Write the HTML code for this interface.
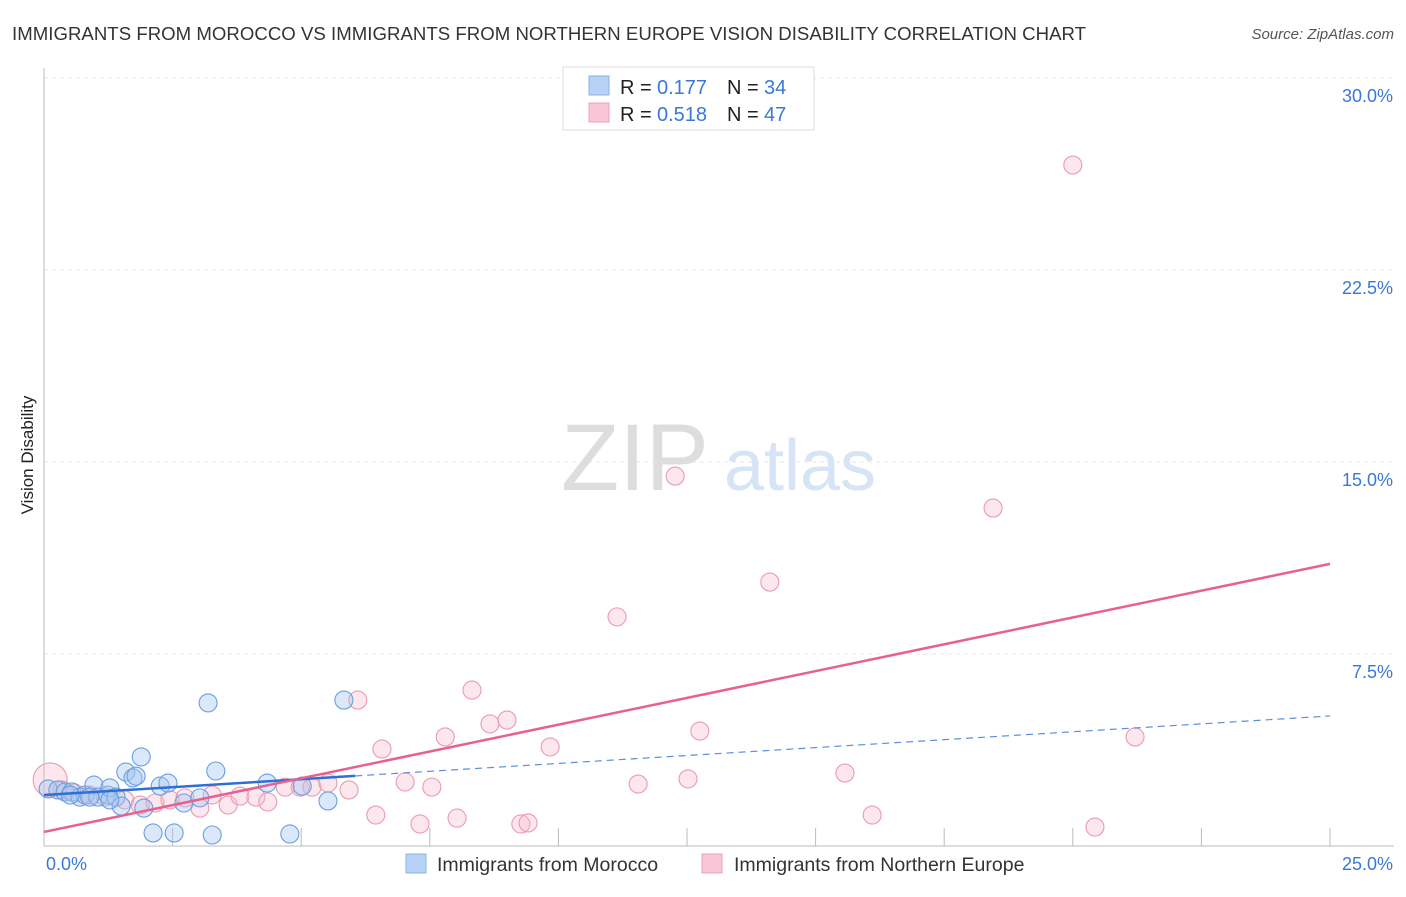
<!DOCTYPE html>
<html><head><meta charset="utf-8"><style>
body{margin:0;background:#fff;font-family:"Liberation Sans",sans-serif;}
svg text{font-family:"Liberation Sans",sans-serif;}
</style></head><body>
<svg id="chart" width="1406" height="892" xmlns="http://www.w3.org/2000/svg">
<text x="12" y="40" font-size="18.6" fill="#333" textLength="1074">IMMIGRANTS FROM MOROCCO VS IMMIGRANTS FROM NORTHERN EUROPE VISION DISABILITY CORRELATION CHART</text>
<text x="1394" y="39" font-size="15" fill="#555" font-style="italic" text-anchor="end">Source: ZipAtlas.com</text>
<text x="33" y="455" font-size="17" fill="#222" text-anchor="middle" transform="rotate(-90 33 455)">Vision Disability</text>
<g>
<text x="635" y="490" font-size="95" fill="#ddd" font-family="Liberation Serif" text-anchor="middle">ZIP</text>
<text x="800" y="490" font-size="72" fill="#d6e4f6" text-anchor="middle">atlas</text>
</g>
<g id="grid"></g><g id="pts"></g><g id="trend"></g>
<g>
<rect x="563" y="67" width="251" height="63" fill="#fff" stroke="#ddd"/>
<rect x="589" y="76" width="20" height="19" fill="#b8d2f5" stroke="#8ab2e8"/>
<text x="620" y="94" font-size="20" fill="#222">R =</text><text x="657" y="94" font-size="20" fill="#3a78d8">0.177</text>
<text x="727" y="94" font-size="20" fill="#222">N =</text><text x="764" y="94" font-size="20" fill="#3a78d8">34</text>
<rect x="589" y="103" width="20" height="19" fill="#f8c6d4" stroke="#eea3b8"/>
<text x="620" y="121" font-size="20" fill="#222">R =</text><text x="657" y="121" font-size="20" fill="#3a78d8">0.518</text>
<text x="727" y="121" font-size="20" fill="#222">N =</text><text x="764" y="121" font-size="20" fill="#3a78d8">47</text>
</g>
<g>
<rect x="406" y="854" width="20" height="19" fill="#b8d2f5" stroke="#8ab2e8"/>
<text x="437" y="871" font-size="19.5" fill="#333">Immigrants from Morocco</text>
<rect x="702" y="854" width="20" height="19" fill="#f8c6d4" stroke="#eea3b8"/>
<text x="734" y="871" font-size="19.5" fill="#333">Immigrants from Northern Europe</text>
</g>
</svg>
<script>
const yTicks=[7.5,15,22.5,30];
const yTickLabels=["7.5%","15.0%","22.5%","30.0%"];
const xTickLabels=["0.0%","25.0%"];
const blueX=[0.08,0.27,0.41,0.54,0.70,0.80,0.97,1.05,1.24,1.28,1.40,1.50,1.59,1.73,1.79,1.89,1.94,2.12,2.26,2.41,2.53,2.72,3.03,3.19,3.27,3.34,4.34,4.78,5.02,5.52,5.83,1.28,0.51,0.89];
const blueY=[2.23,2.19,2.11,2.11,1.91,1.99,2.38,1.91,1.99,2.27,1.91,1.56,2.89,2.66,2.73,3.48,1.48,0.51,2.34,2.46,0.51,1.68,1.88,5.59,0.43,2.93,2.46,0.47,2.34,1.76,5.70,1.80,1.99,1.91];
const pinkX=[0.12,0.35,0.60,0.89,1.19,1.57,1.87,2.16,2.45,2.74,3.03,3.27,3.58,3.81,4.12,4.35,4.69,4.98,5.21,5.52,5.93,6.10,6.45,6.57,7.02,7.31,7.54,7.80,8.03,8.32,8.67,9.00,9.27,9.41,9.84,11.14,11.55,12.27,12.52,12.75,14.11,15.57,16.10,18.45,20.00,20.43,21.21];
const pinkY=[2.58,2.19,2.07,1.99,1.91,1.80,1.60,1.68,1.80,1.88,1.48,1.99,1.60,1.95,1.91,1.72,2.30,2.30,2.30,2.46,2.19,5.70,1.21,3.79,2.50,0.86,2.30,4.26,1.09,6.09,4.77,4.92,0.86,0.90,3.87,8.95,2.42,14.45,2.62,4.49,10.31,2.85,1.21,13.20,26.60,0.74,4.26];
const blueTrend=[1.99,5.08];
const blueSolidEnd=[6.05];
const pinkTrend=[0.55,11.02];
const NS="http://www.w3.org/2000/svg";
const X=v=>44+v*(1286/25), Y=v=>846-v*25.6;
function mk(t,a,p){const e=document.createElementNS(NS,t);for(const k in a)e.setAttribute(k,a[k]);p.appendChild(e);return e;}
const grid=document.getElementById('grid');
yTicks.forEach((t,i)=>{
 const l=mk('line',{x1:44,x2:1394,y1:Y(t),y2:Y(t),stroke:'#e4e4e4','stroke-dasharray':'4,4'},grid);
 
 
 const tx=mk('text',{x:1393,y:Y(t)+24,'font-size':18,fill:'#3a78d8','text-anchor':'end'},grid);tx.textContent=yTickLabels[i];
 
 
});
mk('line',{x1:44,x2:44,y1:68,y2:846,stroke:'#bbb'},grid);
mk('line',{x1:44,x2:1394,y1:846,y2:846,stroke:'#bbb'},grid);
for(let i=1;i<=10;i++){mk('line',{x1:X(i*2.5),x2:X(i*2.5),y1:828,y2:846,stroke:'#bbb'},grid);}
[[0,'start',46],[25,'end',1393]].forEach((d,i)=>{const t=mk('text',{x:d[2],y:870,'font-size':18,fill:'#3a78d8','text-anchor':d[1]},grid);t.textContent=xTickLabels[i];
 
 });
const pts=document.getElementById('pts');
pinkX.forEach((x,i)=>{const c=mk('circle',{cx:X(x),cy:Y(pinkY[i]),r:i==0?17:9,fill:'rgba(246,185,205,0.35)',stroke:'#eb9ab2','stroke-width':1.1},pts);
 
 });
blueX.forEach((x,i)=>{const c=mk('circle',{cx:X(x),cy:Y(blueY[i]),r:9,fill:'rgba(165,198,240,0.4)',stroke:'#6a9ee0','stroke-width':1.1},pts);
 
 });
const tr=document.getElementById('trend');
const bAt=x=>blueTrend[0]+(blueTrend[1]-blueTrend[0])*x/25;
let l=mk('line',{x1:X(0),y1:Y(bAt(0)),x2:X(blueSolidEnd[0]),y2:Y(bAt(blueSolidEnd[0])),stroke:'#2f6fd4','stroke-width':2.5},tr);


l=mk('line',{x1:X(blueSolidEnd[0]),y1:Y(bAt(blueSolidEnd[0])),x2:X(25),y2:Y(bAt(25)),stroke:'#5a8fe0','stroke-width':1.2,'stroke-dasharray':'7,5'},tr);


l=mk('line',{x1:X(0),y1:Y(pinkTrend[0]),x2:X(25),y2:Y(pinkTrend[1]),stroke:'#e8608e','stroke-width':2.5},tr);


</script>
</body></html>
